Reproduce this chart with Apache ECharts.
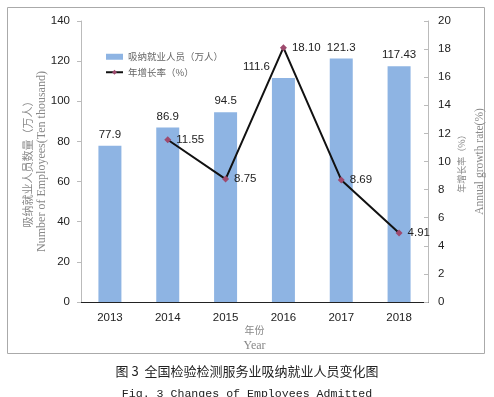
<!DOCTYPE html>
<html>
<head>
<meta charset="utf-8">
<script src="https://cdn.jsdelivr.net/npm/echarts@6/dist/echarts.min.js"></script>
<style>
  html, body { margin: 0; padding: 0; background: #fff; }
  #chart { width: 494px; height: 397px; }
</style>
</head>
<body>
<div id="chart"></div>
<script>
// data
const years = ['2013', '2014', '2015', '2016', '2017', '2018'];
const employees = [77.9, 86.9, 94.5, 111.6, 121.3, 117.43];   // 万人
const growthRate = [null, 11.55, 8.75, 18.10, 8.69, 4.91];    // %
const leftTicks = { min: 0, max: 140, interval: 20 };
const rightTicks = { min: 0, max: 20, interval: 2 };

const numFont = 'Liberation Sans';
const serif = 'Liberation Serif';
const cjk = 'Noto Sans CJK SC';

let chart = echarts.init(document.getElementById('chart'), null, { renderer: 'canvas' });

// the 2016 bar label sits left of the line peak, as in the figure
const barData = employees.map((v, i) => i === 3 ? { value: v, label: { offset: [-27, 0] } } : v);

const option = {
  animation: false,
  backgroundColor: '#fff',
  title: [
    {
      text: '图 3  全国检验检测服务业吸纳就业人员变化图',
      left: 'center',
      top: 360,
      textStyle: { fontFamily: cjk, fontSize: 13, fontWeight: 'normal', color: '#222' }
    },
    {
      text: 'Fig. 3 Changes of Employees Admitted',
      left: 'center',
      top: 383,
      textStyle: { fontFamily: 'Liberation Mono', fontSize: 11.6, fontWeight: 'normal', color: '#222' }
    }
  ],
  graphic: [
    {
      type: 'rect',
      shape: { x: 7.5, y: 7.5, width: 477, height: 346 },
      style: { fill: 'none', stroke: '#aaa', lineWidth: 1 },
      silent: true
    }
  ],
  legend: {
    orient: 'vertical',
    left: 100,
    top: 47,
    itemGap: 6,
    itemWidth: 17,
    itemHeight: 6,
    textStyle: { fontFamily: cjk, fontSize: 9.5, color: '#666' },
    data: [
      { name: '吸纳就业人员（万人）', icon: 'rect', itemStyle: { color: '#8EB4E3' } },
      { name: '年增长率（%）' }
    ]
  },
  grid: { left: 81, right: 66, top: 21, bottom: 95, outerBoundsMode: 'none' },
  xAxis: [
    {
      type: 'category',
      data: years,
      name: '{a|年份}\n{b|Year}',
      nameLocation: 'middle',
      nameGap: 20,
      nameMoveOverlap: false,
      nameTextStyle: {
        rich: {
          a: { fontFamily: cjk, fontSize: 10, color: '#888', lineHeight: 16 },
          b: { fontFamily: serif, fontSize: 12, color: '#888', lineHeight: 16 }
        }
      },
      axisLine: { lineStyle: { color: '#bbb' } },
      axisTick: { inside: true, length: 4, lineStyle: { color: '#bbb' } },
      axisLabel: { margin: 10, fontFamily: numFont, fontSize: 11.5, color: '#222' }
    },
    {
      type: 'category',
      data: years,
      position: 'top',
      axisLine: { lineStyle: { color: '#222', width: 1 } },
      axisTick: { show: false },
      axisLabel: { show: false }
    }
  ],
  yAxis: [
    {
      type: 'value',
      min: leftTicks.min,
      max: leftTicks.max,
      interval: leftTicks.interval,
      name: '{a|吸纳就业人员数量（万人）}\n{b|Number of Employees(Ten thousand)}',
      nameLocation: 'middle',
      nameRotate: 90,
      nameGap: 32,
      nameMoveOverlap: false,
      nameTextStyle: {
        rich: {
          a: { fontFamily: cjk, fontSize: 11, color: '#888', lineHeight: 14 },
          b: { fontFamily: serif, fontSize: 12, color: '#888', lineHeight: 14 }
        }
      },
      axisLine: { show: true, lineStyle: { color: '#bbb' } },
      axisTick: { show: true, length: 4, lineStyle: { color: '#bbb' } },
      axisLabel: { margin: 11, fontFamily: numFont, fontSize: 11.5, color: '#222' },
      splitLine: { show: false }
    },
    {
      type: 'value',
      min: rightTicks.min,
      max: rightTicks.max,
      interval: rightTicks.interval,
      position: 'right',
      name: '{a|年增长率（%）}\n{b|Annual growth rate(%)}',
      nameLocation: 'middle',
      nameRotate: 90,
      nameGap: 25,
      nameMoveOverlap: false,
      nameTextStyle: {
        rich: {
          a: { fontFamily: cjk, fontSize: 9, color: '#888', lineHeight: 18 },
          b: { fontFamily: serif, fontSize: 11.5, color: '#888', lineHeight: 18 }
        }
      },
      axisLine: { show: true, lineStyle: { color: '#bbb' } },
      axisTick: { show: true, inside: true, length: 4, lineStyle: { color: '#bbb' } },
      axisLabel: { margin: 10, fontFamily: numFont, fontSize: 11.5, color: '#222' },
      splitLine: { show: false }
    }
  ],
  series: [
    {
      name: '吸纳就业人员（万人）',
      type: 'bar',
      data: barData,
      barWidth: 23,
      itemStyle: { color: '#8EB4E3' },
      label: {
        show: true,
        position: 'top',
        distance: 5,
        fontFamily: numFont,
        fontSize: 11.5,
        color: '#222'
      }
    },
    {
      name: '年增长率（%）',
      type: 'line',
      yAxisIndex: 1,
      data: growthRate,
      symbol: 'diamond',
      symbolSize: 7,
      lineStyle: { color: '#111', width: 2 },
      itemStyle: { color: '#9E4A6E' },
      label: {
        show: true,
        position: 'right',
        distance: 5,
        fontFamily: numFont,
        fontSize: 11.5,
        color: '#222',
        formatter: p => p.value.toFixed(2)
      },
      z: 5
    }
  ]
};

chart.setOption(option);
</script>
</body>
</html>
